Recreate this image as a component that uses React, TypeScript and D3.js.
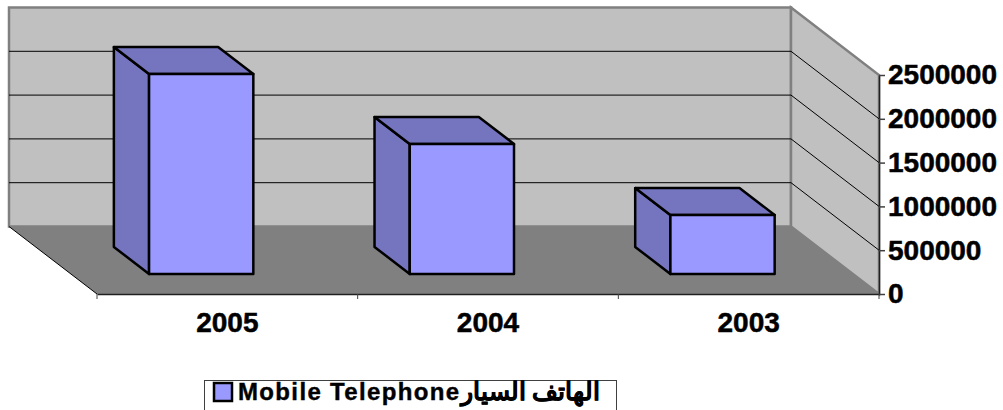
import React, { useRef, useEffect } from 'react';
import { select, scaleLinear, scaleBand, axisRight, axisBottom, line } from 'd3';

const categories = ['2005', '2004', '2003'];
const mobileValues = [2283000, 1484000, 673000];
const yTicks = [0, 500000, 1000000, 1500000, 2000000, 2500000];
const legendLatin = 'Mobile Telephone';
const legendArabic = 'الهاتف السيار';

const FONT = '"Liberation Sans", Arial, sans-serif';
const WIDTH = 1003;
const HEIGHT = 410;
const DEPTH_X = 88;
const DEPTH_Y = 67.5;

const App = () => {
  const svgRef = useRef<SVGSVGElement | null>(null);

  useEffect(() => {
    const svg = select(svgRef.current);
    svg.selectAll('*').remove();

    const xScale = scaleBand<string>()
      .domain(categories)
      .range([97, 879])
      .paddingInner(0)
      .paddingOuter(0);

    const yScale = scaleLinear().domain([0, 2500000]).range([294, 75]);

    const path = line();
    // moves a point of the front plane towards the back wall
    const back = (x: number, y: number, k: number): [number, number] => [
      x - DEPTH_X * k,
      y - DEPTH_Y * k,
    ];

    const left = 97;
    const right = 879;
    const top = yScale(2500000);
    const bottom = yScale(0);

    // back wall
    svg
      .append('path')
      .attr('d', path([back(left, top, 1), back(right, top, 1), back(right, bottom, 1), back(left, bottom, 1)]) + 'Z')
      .attr('fill', '#c0c0c0')
      .attr('stroke', '#808080')
      .attr('stroke-width', 2.5);

    // side wall
    svg
      .append('path')
      .attr('d', path([back(right, top, 1), [right, top], [right, bottom], back(right, bottom, 1)]) + 'Z')
      .attr('fill', '#c0c0c0')
      .attr('stroke', '#808080')
      .attr('stroke-width', 2.5);

    // gridlines
    svg
      .selectAll('.grid')
      .data(yTicks.slice(1, -1))
      .join('path')
      .attr('class', 'grid')
      .attr('fill', 'none')
      .attr('stroke', '#000')
      .attr('stroke-width', 1)
      .attr('d', d =>
        path([back(left, yScale(d), 1), back(right, yScale(d), 1), [right, yScale(d)]])
      );

    // floor
    svg
      .append('path')
      .attr('d', path([back(left, bottom, 1), back(right, bottom, 1), [right, bottom], [left, bottom]]) + 'Z')
      .attr('fill', '#808080');
    svg
      .append('path')
      .attr('d', path([back(left, bottom, 1), [left, bottom]]))
      .attr('stroke', '#000')
      .attr('stroke-width', 1);

    // bars
    const barWidth = xScale.bandwidth() * 0.4;
    const bars = svg
      .selectAll('.bar')
      .data(mobileValues)
      .join('g')
      .attr('class', 'bar')
      .attr('fill', '#7474bf')
      .attr('stroke', '#000')
      .attr('stroke-width', 2.5)
      .attr('stroke-linejoin', 'round');

    const frontK = 0.297;
    const backK = 0.697;
    const corners = (value: number, i: number) => {
      const x0 = xScale(categories[i]) + xScale.bandwidth() * 0.3;
      const x1 = x0 + barWidth;
      const y0 = yScale(value);
      return { x0, x1, y0, y1: bottom };
    };

    bars
      .append('path')
      .attr('d', (d, i) => {
        const c = corners(d, i);
        return path([back(c.x0, c.y0, frontK), back(c.x0, c.y0, backK), back(c.x0, c.y1, backK), back(c.x0, c.y1, frontK)]) + 'Z';
      });
    bars
      .append('path')
      .attr('d', (d, i) => {
        const c = corners(d, i);
        return path([back(c.x0, c.y0, frontK), back(c.x0, c.y0, backK), back(c.x1, c.y0, backK), back(c.x1, c.y0, frontK)]) + 'Z';
      });
    bars
      .append('path')
      .attr('fill', '#9999ff')
      .attr('d', (d, i) => {
        const c = corners(d, i);
        return path([back(c.x0, c.y0, frontK), back(c.x1, c.y0, frontK), back(c.x1, c.y1, frontK), back(c.x0, c.y1, frontK)]) + 'Z';
      });

    // axes
    const yAxis = axisRight(yScale)
      .tickValues(yTicks)
      .tickSize(6)
      .tickPadding(3)
      .tickSizeOuter(0)
      .tickFormat(d => String(d));
    const yG = svg.append('g').attr('transform', `translate(${right},0)`).call(yAxis);

    const xAxis = axisBottom(xScale).tickSize(0).tickPadding(18);
    const xG = svg.append('g').attr('transform', `translate(0,${bottom})`).call(xAxis);

    [yG, xG].forEach(g => {
      g.selectAll('text')
        .attr('fill', '#000')
        .attr('stroke', '#000')
        .attr('stroke-width', 0.5)
        .style('font-family', FONT)
        .style('font-weight', 'bold')
        .style('font-size', '28px');
      g.selectAll('line').attr('stroke', '#404040').attr('stroke-width', 1.5);
      g.select('.domain').attr('stroke', '#202020').attr('stroke-width', 1.5);
    });

    // category ticks sit on the band edges
    svg
      .selectAll('.x-edge')
      .data([...categories.map(c => xScale(c)), right])
      .join('line')
      .attr('class', 'x-edge')
      .attr('x1', d => d)
      .attr('x2', d => d)
      .attr('y1', bottom)
      .attr('y2', bottom + 5)
      .attr('stroke', '#404040');

    // legend
    const legend = svg.append('g');
    legend
      .append('rect')
      .attr('x', 204.5)
      .attr('y', 380.5)
      .attr('width', 412)
      .attr('height', 40)
      .attr('fill', '#fff')
      .attr('stroke', '#404040');
    legend
      .append('rect')
      .attr('x', 214)
      .attr('y', 383)
      .attr('width', 18)
      .attr('height', 18)
      .attr('fill', '#9999ff')
      .attr('stroke', '#000')
      .attr('stroke-width', 2.5);
    const label = legend
      .append('text')
      .attr('x', 238)
      .attr('y', 400)
      .attr('direction', 'ltr')
      .attr('stroke', '#000')
      .attr('stroke-width', 0.4)
      .style('font-family', FONT)
      .style('font-weight', 'bold')
      .style('font-size', '24px');
    label.append('tspan').text(legendLatin).attr('letter-spacing', 1.35);
    label.append('tspan').text(legendArabic).style('font-size', '25px');
  }, []);

  return (
    <svg
      ref={svgRef}
      width={WIDTH}
      height={HEIGHT}
      style={{ position: 'absolute', left: 0, top: 0, display: 'block' }}
    />
  );
};

export default App;
